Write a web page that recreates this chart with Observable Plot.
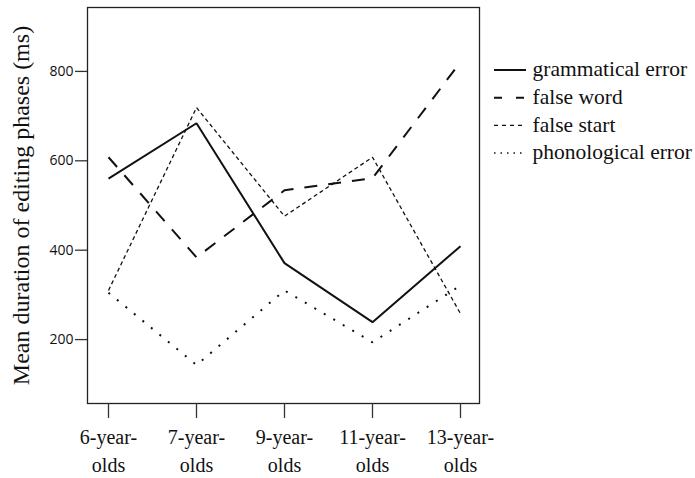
<!DOCTYPE html>
<html>
<head>
<meta charset="utf-8">
<script src="https://cdn.jsdelivr.net/npm/d3@7"></script>
<script src="https://cdn.jsdelivr.net/npm/@observablehq/plot@0.6"></script>
<style>
  html, body { margin: 0; padding: 0; background: #fff; }
  #chart { position: relative; width: 695px; height: 478px; }
</style>
</head>
<body>
<div id="chart"></div>
<script>
const ageGroups = ["6-year-olds", "7-year-olds", "9-year-olds", "11-year-olds", "13-year-olds"];
const ageLabels = ["6-year-\nolds", "7-year-\nolds", "9-year-\nolds", "11-year-\nolds", "13-year-\nolds"];
const seriesNames = ["grammatical error", "false word", "false start", "phonological error"];
const grammaticalError = [560, 684, 371, 239, 409];
const falseWord = [608, 384, 534, 561, 821];
const falseStart = [310, 719, 476, 608, 258];
const phonologicalError = [305, 143, 310, 194, 321];
const yTicks = [200, 400, 600, 800];

const seriesValues = [grammaticalError, falseWord, falseStart, phonologicalError];
const styles = {
  "grammatical error": {strokeWidth: 2, dash: null, legendWidth: 2, legendDash: null},
  "false word": {strokeWidth: 2, dash: "13,11", legendWidth: 2, legendDash: "8,14"},
  "false start": {strokeWidth: 1.3, dash: "4,3", legendWidth: 1.1, legendDash: "4,4"},
  "phonological error": {strokeWidth: 2, dash: "2,9", legendWidth: 1.5, legendDash: "1.5,5"}
};

const data = [];
seriesNames.forEach((s, i) => ageGroups.forEach((a, j) => data.push({series: s, age: a, value: seriesValues[i][j]})));

const serif = "Liberation Serif";
const legendRowY = (i) => 70 + i * 27.7;

const lineMarks = seriesNames.map(s => Plot.line(data.filter(d => d.series === s), {
  x: "age", y: "value", stroke: "#111", strokeWidth: styles[s].strokeWidth,
  strokeDasharray: styles[s].dash, strokeLinejoin: "miter", strokeLinecap: "butt"
}));

// legend texts placed relative to the frame's top-right corner (frame top = 7, right = 479)
const legendTexts = seriesNames.map((s, i) => Plot.text([s], {
  frameAnchor: "top-right", dx: 53, dy: legendRowY(i) - 8, textAnchor: "start", lineAnchor: "middle",
  fontSize: 21.5, fontFamily: serif, fill: "#111"
}));

const plot = Plot.plot({
  width: 695,
  height: 478,
  marginLeft: 87,
  marginTop: 7,
  marginRight: 216,
  marginBottom: 75,
  style: {background: "#fff", color: "#111"},
  x: {type: "point", domain: ageGroups, insetLeft: 20, insetRight: 19, padding: 0},
  y: {domain: [57, 943]},
  marks: [
    ...lineMarks,
    Plot.frame({stroke: "#222", strokeWidth: 1.3}),
    Plot.axisX({
      tickSize: 15, tickPadding: 6, stroke: "#333", strokeWidth: 1.3,
      tickFormat: (d) => ageLabels[ageGroups.indexOf(d)],
      fontSize: 20, fontFamily: serif, lineHeight: 1.4, label: null, lineAnchor: "top"
    }),
    Plot.axisY({
      ticks: yTicks, tickSize: 12, tickPadding: 2, stroke: "#333", strokeWidth: 1.3,
      fontSize: 14, fontFamily: "Open Sans", fill: "#111", label: null
    }),
    Plot.text(["Mean duration of editing phases (ms)"], {
      frameAnchor: "left", dx: -66, rotate: -90, textAnchor: "middle", lineAnchor: "middle",
      fontSize: 24, fontFamily: serif, fill: "#111"
    }),
    ...legendTexts
  ]
});

// legend line samples
const svg = d3.select(plot);
const legend = svg.append("g");
seriesNames.forEach((s, i) => {
  const y = legendRowY(i);
  legend.append("line").attr("x1", 494).attr("x2", 526).attr("y1", y).attr("y2", y)
    .attr("stroke", "#111").attr("stroke-width", styles[s].legendWidth)
    .attr("stroke-dasharray", styles[s].legendDash);
});

document.getElementById("chart").appendChild(plot);
</script>
</body>
</html>
